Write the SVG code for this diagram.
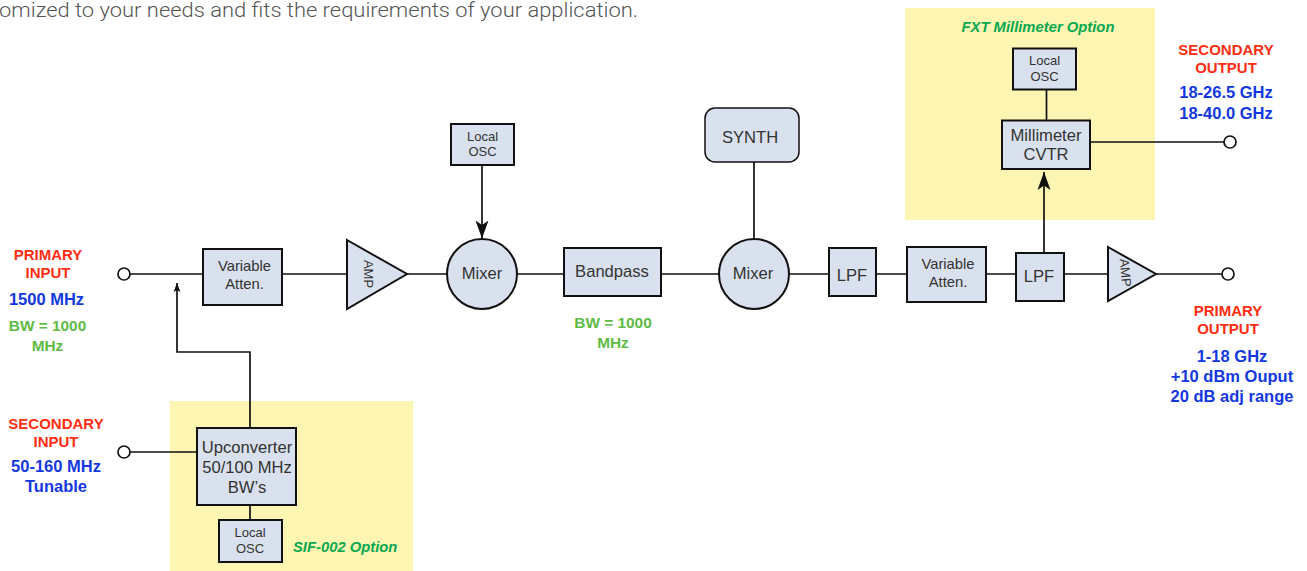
<svg xmlns="http://www.w3.org/2000/svg" width="1307" height="571" viewBox="0 0 1307 571">
<style>
text{font-family:"Liberation Sans",Arial,sans-serif;text-anchor:middle}
.box{fill:#d9e1ee;stroke:#111;stroke-width:2}
.wire{fill:none;stroke:#111;stroke-width:1.7}
.port{fill:#fff;stroke:#111;stroke-width:1.7}
.opt{fill:#fdf5b2}
.n{font-size:16.6px;fill:#333}
.v{font-size:14.8px;fill:#333}
.s{font-size:13px;fill:#333}
.red{font-size:15px;font-weight:bold;fill:#ff2d12}
.blue{font-size:16.5px;font-weight:bold;fill:#1438e0}
.green{font-size:15.4px;font-weight:bold;fill:#5ebb46}
.optl{font-size:14.8px;font-weight:bold;font-style:italic;fill:#0aa84f}
</style>
<defs>
<marker id="big" markerUnits="userSpaceOnUse" markerWidth="20" markerHeight="16" refX="18" refY="7" orient="auto"><path d="M0 0.500L18 7L0 13.500L4.500 7Z" fill="#111"/></marker>
<marker id="small" markerUnits="userSpaceOnUse" markerWidth="12" markerHeight="10" refX="9" refY="4" orient="auto"><path d="M0 0.500L9 4L0 7.500L2 4Z" fill="#111"/></marker>
</defs>
<text x="-1" y="16.500" style="text-anchor:start;font-family:Roboto,'Liberation Sans',sans-serif;font-weight:300;font-size:21px;fill:#555" textLength="639" lengthAdjust="spacingAndGlyphs">omized to your needs and fits the requirements of your application.</text>
<rect id="opt-sif" class="opt" x="170" y="401" width="243" height="170"/>
<rect id="opt-fxt" class="opt" x="905" y="8" width="250" height="212"/>
<g id="connectors">
<path class="wire" d="M130 274H203M282 274H347M407 274H447M517 274H564M661 274H719M789 274H829M876 274H907M986 274H1016M1064 274H1108M1156 274H1222"/>
<path class="wire" d="M130 452H197"/>
<path class="wire" d="M250 428V352H177V283" marker-end="url(#small)"/>
<path class="wire" d="M250 505V520"/>
<path class="wire" d="M482 165V238.500" marker-end="url(#big)"/>
<path class="wire" d="M754 162V239"/>
<path class="wire" d="M1044 253V172" marker-end="url(#big)"/>
<path class="wire" d="M1046.500 90V120"/>
<path class="wire" d="M1090 142H1224"/>
</g>
<g id="port-primary-in"><circle class="port" cx="124" cy="274" r="6"/></g>
<g id="port-secondary-in"><circle class="port" cx="124" cy="452" r="6"/></g>
<g id="port-primary-out"><circle class="port" cx="1228" cy="274" r="6"/></g>
<g id="port-secondary-out"><circle class="port" cx="1230" cy="142" r="6"/></g>
<g id="atten1"><rect class="box" x="203" y="249" width="79" height="56"/><text class="v" x="244.500" y="271">Variable</text><text class="v" x="244.500" y="289">Atten.</text></g>
<g id="amp1"><path class="box" d="M347 240L407 274L347 309Z"/><text class="s" transform="translate(364 274) rotate(90)" x="0" y="0">AMP</text></g>
<g id="mixer1"><circle class="box" cx="482" cy="274" r="35"/><text class="n" x="482" y="279">Mixer</text></g>
<g id="osc1"><rect class="box" x="451" y="124" width="63" height="41"/><text class="s" x="482.500" y="141">Local</text><text class="s" x="482.500" y="156">OSC</text></g>
<g id="bandpass"><rect class="box" x="564" y="248" width="97" height="48"/><text class="n" x="612" y="277">Bandpass</text></g>
<g id="mixer2"><circle class="box" cx="754" cy="274" r="35"/><text class="n" x="753" y="279">Mixer</text></g>
<g id="synth"><rect class="box" style="stroke-width:1.5" x="705" y="108" width="94" height="54" rx="10"/><text class="n" x="750" y="143">SYNTH</text></g>
<g id="lpf1"><rect class="box" x="829" y="248" width="47" height="48"/><text class="n" x="852" y="281">LPF</text></g>
<g id="atten2"><rect class="box" x="907" y="247" width="79" height="55"/><text class="v" x="948" y="269">Variable</text><text class="v" x="948" y="287">Atten.</text></g>
<g id="lpf2"><rect class="box" x="1016" y="253" width="48" height="48"/><text class="n" x="1039" y="282">LPF</text></g>
<g id="amp2"><path class="box" d="M1108 247L1156 274L1108 301Z"/><text class="s" transform="translate(1121 273) rotate(85)" x="0" y="0">AMP</text></g>
<g id="mmcvtr"><rect class="box" x="1002" y="120.500" width="88" height="48.500"/><text class="n" x="1046" y="141">Millimeter</text><text class="n" x="1046" y="160">CVTR</text></g>
<g id="osc3"><rect class="box" x="1013" y="48.500" width="63" height="41"/><text class="s" x="1044.500" y="65">Local</text><text class="s" x="1044.500" y="81">OSC</text></g>
<g id="upconverter"><rect class="box" x="197" y="428" width="99" height="77"/><text class="n" x="247" y="453">Upconverter</text><text class="n" x="247" y="473">50/100 MHz</text><text class="n" x="247" y="493">BW’s</text></g>
<g id="osc2"><rect class="box" x="219" y="520" width="63" height="42"/><text class="s" x="250" y="537">Local</text><text class="s" x="250" y="553">OSC</text></g>
<g id="labels">
<text class="red" x="48" y="260">PRIMARY</text><text class="red" x="48" y="278">INPUT</text>
<text class="blue" x="46.500" y="305">1500 MHz</text>
<text class="green" x="47.500" y="331">BW = 1000</text><text class="green" x="47.500" y="351">MHz</text>
<text class="red" x="56" y="429">SECONDARY</text><text class="red" x="56" y="447">INPUT</text>
<text class="blue" x="56" y="472">50-160 MHz</text><text class="blue" x="56" y="492">Tunable</text>
<text class="green" x="613" y="328">BW = 1000</text><text class="green" x="613" y="348">MHz</text>
<text class="optl" x="293" y="552" style="text-anchor:start">SIF-002 Option</text>
<text class="optl" x="1038" y="32">FXT Millimeter Option</text>
<text class="red" x="1226" y="55">SECONDARY</text><text class="red" x="1226" y="73">OUTPUT</text>
<text class="blue" x="1226" y="98">18-26.5 GHz</text><text class="blue" x="1226" y="119">18-40.0 GHz</text>
<text class="red" x="1228" y="316">PRIMARY</text><text class="red" x="1228" y="334">OUTPUT</text>
<text class="blue" x="1232" y="362">1-18 GHz</text><text class="blue" x="1232" y="382">+10 dBm Ouput</text><text class="blue" x="1232" y="402">20 dB adj range</text>
</g>
</svg>
